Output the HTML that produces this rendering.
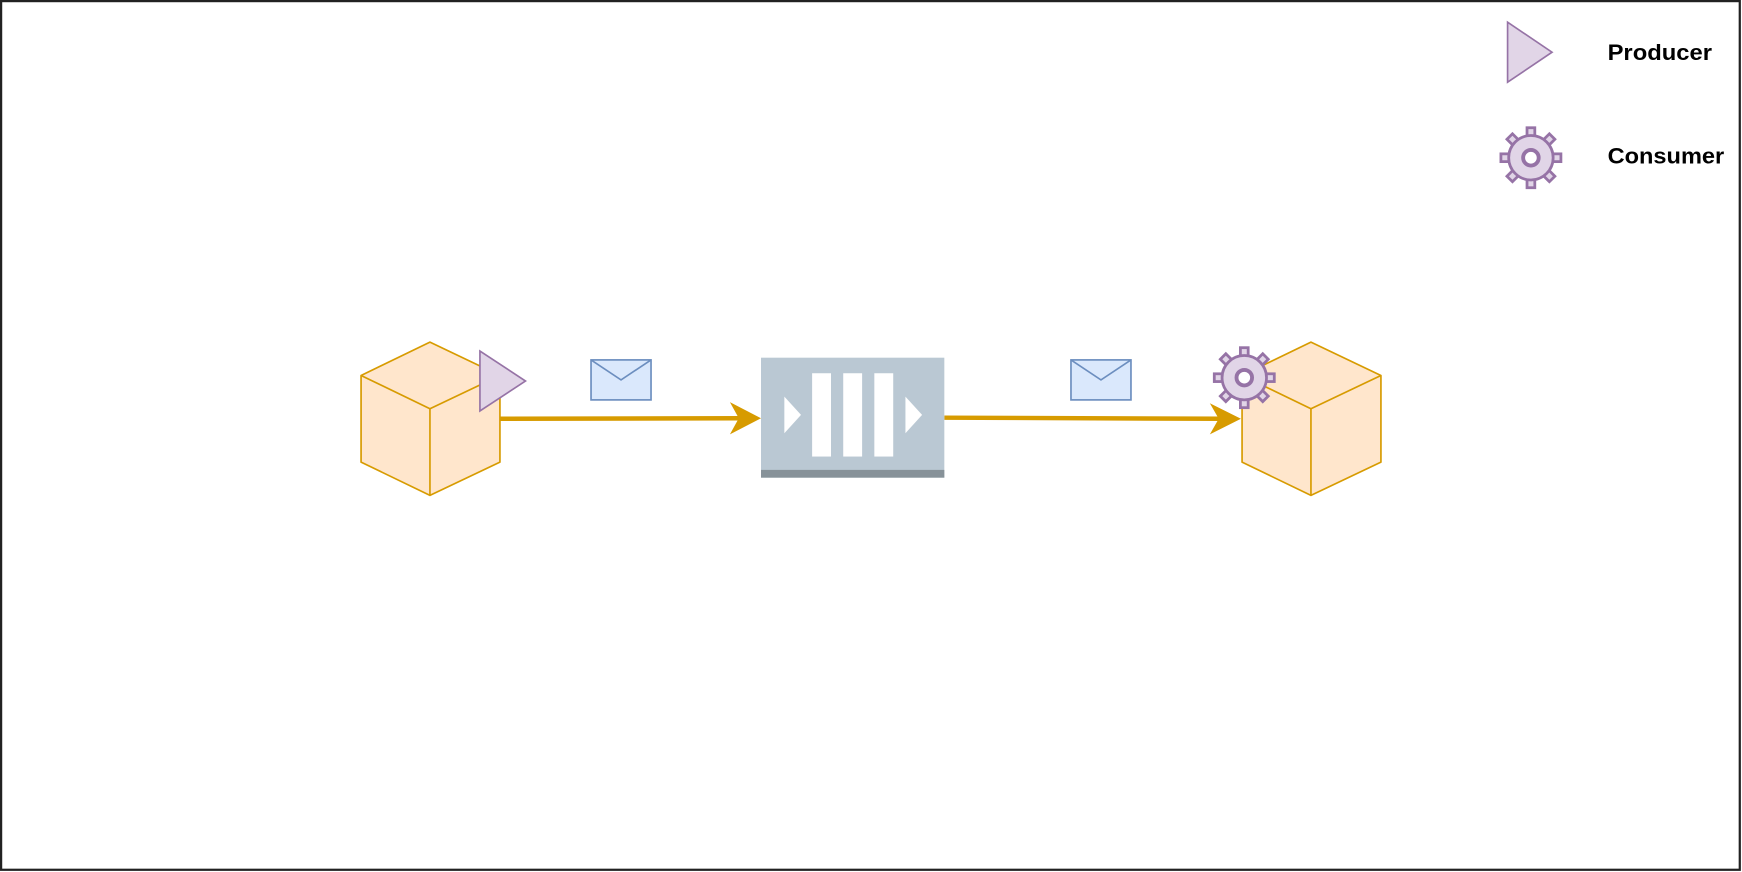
<!DOCTYPE html>
<html><head><meta charset="utf-8"><style>html,body{margin:0;padding:0;background:#fff}svg{display:block}</style></head>
<body>
<svg width="1742" height="872" viewBox="0 0 1568 785" preserveAspectRatio="none" xmlns="http://www.w3.org/2000/svg">
<defs>
<g id="gear">
  <g fill="#e1d5e7" stroke="#9673a6" stroke-width="2.5">
    <rect x="-3.5" y="-27" width="7" height="10" transform="rotate(0)"/>
    <rect x="-3.5" y="-27" width="7" height="10" transform="rotate(45)"/>
    <rect x="-3.5" y="-27" width="7" height="10" transform="rotate(90)"/>
    <rect x="-3.5" y="-27" width="7" height="10" transform="rotate(135)"/>
    <rect x="-3.5" y="-27" width="7" height="10" transform="rotate(180)"/>
    <rect x="-3.5" y="-27" width="7" height="10" transform="rotate(225)"/>
    <rect x="-3.5" y="-27" width="7" height="10" transform="rotate(270)"/>
    <rect x="-3.5" y="-27" width="7" height="10" transform="rotate(315)"/>
  </g>
  <circle r="20" fill="#e1d5e7" stroke="#9673a6" stroke-width="2.5"/>
  <circle r="7" fill="#fff" stroke="#9673a6" stroke-width="3.5"/>
</g>
<g id="cube" fill="#ffe6cc" stroke="#d79b00" stroke-width="1.5" stroke-linejoin="round">
  <polygon points="387,308 450,338 450,416 387,446 325,416 325,338"/>
  <polyline points="325,338 387,368 450,338" fill="none"/>
  <line x1="387" y1="368" x2="387" y2="446"/>
</g>
</defs>
<rect x="1" y="1" width="1565" height="782" fill="#fff" stroke="#222" stroke-width="2"/>

<use href="#cube"/>
<use href="#cube" transform="translate(793,0)"/>

<polygon points="432,316 432,370 473,343" fill="#e1d5e7" stroke="#9673a6" stroke-width="1.5"/>

<line x1="450" y1="377" x2="668" y2="376.5" stroke="#d79b00" stroke-width="4"/>
<polygon points="685,376.5 657,362 665,376.5 657,391" fill="#d79b00"/>
<line x1="850" y1="376" x2="1100" y2="377" stroke="#d79b00" stroke-width="4"/>
<polygon points="1117,377 1089,363 1097,377 1089,391" fill="#d79b00"/>

<g fill="#dae8fc" stroke="#6c8ebf" stroke-width="1.5">
  <rect x="532" y="324" width="54" height="36"/>
  <polyline points="532,324 559,342 586,324" fill="none"/>
  <rect x="964" y="324" width="54" height="36"/>
  <polyline points="964,324 991,342 1018,324" fill="none"/>
</g>

<rect x="685" y="322" width="165" height="108" fill="#bac8d3"/>
<rect x="685" y="423" width="165" height="7" fill="#879299"/>
<g fill="#fff">
  <rect x="731" y="336" width="17" height="75"/>
  <rect x="759" y="336" width="17" height="75"/>
  <rect x="787" y="336" width="17" height="75"/>
  <polygon points="706,357 721,373.5 706,390"/>
  <polygon points="815,357 830,373.5 815,390"/>
</g>

<use href="#gear" transform="translate(1120,340)"/>

<polygon points="1357,20 1357,74 1397,47" fill="#e1d5e7" stroke="#9673a6" stroke-width="1.5"/>
<use href="#gear" transform="translate(1378,142)"/>
<text x="1447" y="54" font-family="Liberation Sans, sans-serif" font-weight="bold" font-size="20" textLength="94" lengthAdjust="spacingAndGlyphs">Producer</text>
<text x="1447" y="147" font-family="Liberation Sans, sans-serif" font-weight="bold" font-size="20" textLength="105" lengthAdjust="spacingAndGlyphs">Consumer</text>
</svg>
</body></html>
